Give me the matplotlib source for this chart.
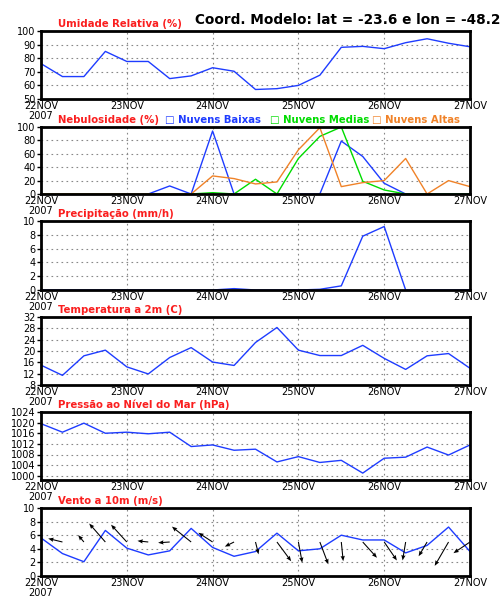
import numpy as np
import matplotlib
matplotlib.use("Agg")
import matplotlib.pyplot as plt

# 6-hourly steps from 22NOV00Z to 27NOV00Z
hours = list(range(0, 121, 6))
day_labels = ["22NOV", "23NOV", "24NOV", "25NOV", "26NOV", "27NOV"]

umidade = [76, 66.5, 66.5, 85, 77.6, 77.6, 65, 67, 73, 70.4, 57, 57.6, 60, 67.5,
           88, 88.7, 87, 91.4, 94.3, 91, 88.4]
nuv_baixas = [0, 0, 0, 0, 0, 0, 12, 0, 94, 0, 0, 0, 0, 0, 79, 56, 16, 0, 0, 0, 0]
nuv_medias = [0, 0, 0, 0, 0, 0, 0, 0, 2, 0, 22, 0, 53, 86, 100, 19, 6, 0, 0, 0, 0]
nuv_altas = [0, 0, 0, 0, 0, 0, 0, 0, 27, 23, 15, 18, 66, 99, 11, 17, 20, 53, 0, 20, 11]
precip = [0, 0, 0, 0, 0, 0, 0, 0, 0, 0.2, 0, 0, 0, 0.1, 0.6, 7.8, 9.2, 0, 0, 0, 0]
temp = [15.0, 11.4, 18.3, 20.3, 14.4, 11.9, 17.7, 21.2, 16.1, 14.9, 23, 28.3, 20.3,
        18.4, 18.4, 22, 17.4, 13.5, 18.3, 19.1, 13.9]
pressao = [1019.6, 1016.4, 1019.8, 1016, 1016.4, 1015.8, 1016.4, 1011, 1011.6, 1009.6,
           1010, 1005.2, 1007.2, 1005, 1005.8, 1001, 1006.6, 1007, 1010.8, 1007.8, 1011.6]
vento = [5.6, 3.3, 2.1, 6.7, 4.1, 3.1, 3.7, 7.0, 4.2, 2.9, 3.6, 6.3, 3.7, 4.0, 6.0,
         5.3, 5.3, 3.4, 4.5, 7.2, 3.6]
vento_u = [np.nan, -3.7, -1.5, -4.2, -4.1, -2.8, -3.0, -5.0, -3.7, -2.4, 0.8, 3.7, 1.0,
           2.2, 0.5, 3.7, 3.3, -0.8, -2.2, -3.6, -4.3]
vento_v = [np.nan, 0.9, 1.8, 4.8, 4.5, 0.3, -0.2, 4.0, 2.4, -1.2, -3.2, -5.0, -5.4,
           -5.8, -5.0, -4.1, -4.8, -4.8, -3.7, -6.2, -2.9]

BLUE = "#1e3cff"
GREEN = "#00dc00"
ORANGE = "#f08228"
RED = "#fa1e1e"

fig = plt.figure(figsize=(5, 6), dpi=100)

L, W = 41 / 500, 429 / 500
boxes = [(31, 99), (127, 194), (221, 290), (317, 385), (412, 480), (508, 576)]


def make_ax(i, ylim, yticks):
    top, bot = boxes[i]
    ax = fig.add_axes([L, 1 - bot / 600, W, (bot - top) / 600])
    ax.set_xlim(0, 120)
    ax.set_ylim(*ylim)
    ax.set_yticks(yticks)
    ax.set_xticks(range(0, 121, 24))
    ax.set_xticklabels(day_labels)
    for t in yticks:
        if ylim[0] < t < ylim[1]:
            ax.axhline(t, color="#888888", lw=0.8, ls=(0, (1.5, 3)), zorder=0)
    for d in range(24, 120, 24):
        ax.axvline(d, color="#888888", lw=0.8, ls=(0, (1.5, 3)), zorder=0)
    for s in ax.spines.values():
        s.set_linewidth(2)
    ax.tick_params(axis="y", labelsize=7, length=3, width=1, pad=1)
    ax.tick_params(axis="x", labelsize=7, length=0, pad=1.5)
    ax.annotate("2007", xy=(0, 0), xycoords="axes fraction", xytext=(0, -8.5),
                textcoords="offset points", fontsize=7, ha="center", va="top")
    return ax


def title(ax, txt, color=RED, x=0.04):
    ax.text(x, 1.025, txt, transform=ax.transAxes, color=color, fontsize=7.3,
            fontweight="bold", ha="left", va="bottom")


ax1 = make_ax(0, (50, 100), range(50, 101, 10))
ax1.plot(hours, umidade, color=BLUE, lw=1)
title(ax1, "Umidade Relativa (%)")
fig.text(0.39, 0.955, "Coord. Modelo: lat = -23.6 e lon = -48.2", fontsize=9.8,
         fontweight="bold", ha="left", va="bottom")

ax2 = make_ax(1, (0, 100), range(0, 101, 20))
ax2.plot(hours, nuv_baixas, color=BLUE, lw=1)
ax2.plot(hours, nuv_medias, color=GREEN, lw=1)
ax2.plot(hours, nuv_altas, color=ORANGE, lw=1)
title(ax2, "Nebulosidade (%)")
title(ax2, "\u25a1 Nuvens Baixas", color=BLUE, x=0.289)
title(ax2, "\u25a1 Nuvens Medias", color=GREEN, x=0.534)
title(ax2, "\u25a1 Nuvens Altas", color=ORANGE, x=0.772)

ax3 = make_ax(2, (0, 10), range(0, 11, 2))
ax3.plot(hours, precip, color=BLUE, lw=1)
title(ax3, "Precipitação (mm/h)")

ax4 = make_ax(3, (8, 32), range(8, 33, 4))
ax4.plot(hours, temp, color=BLUE, lw=1)
title(ax4, "Temperatura a 2m (C)")

ax5 = make_ax(4, (998.4, 1024), range(1000, 1025, 4))
ax5.plot(hours, pressao, color=BLUE, lw=1)
title(ax5, "Pressão ao Nível do Mar (hPa)")

ax6 = make_ax(5, (0, 10), range(0, 11, 2))
ax6.plot(hours, vento, color=BLUE, lw=1)
ax6.quiver(hours, [5] * len(hours), vento_u, vento_v, angles="uv",
           scale_units="dots", scale=0.26, width=0.0025, headwidth=4,
           headlength=5, headaxislength=4.5, color="black", zorder=3)
title(ax6, "Vento a 10m (m/s)")

fig.savefig("out.png", dpi=100)
